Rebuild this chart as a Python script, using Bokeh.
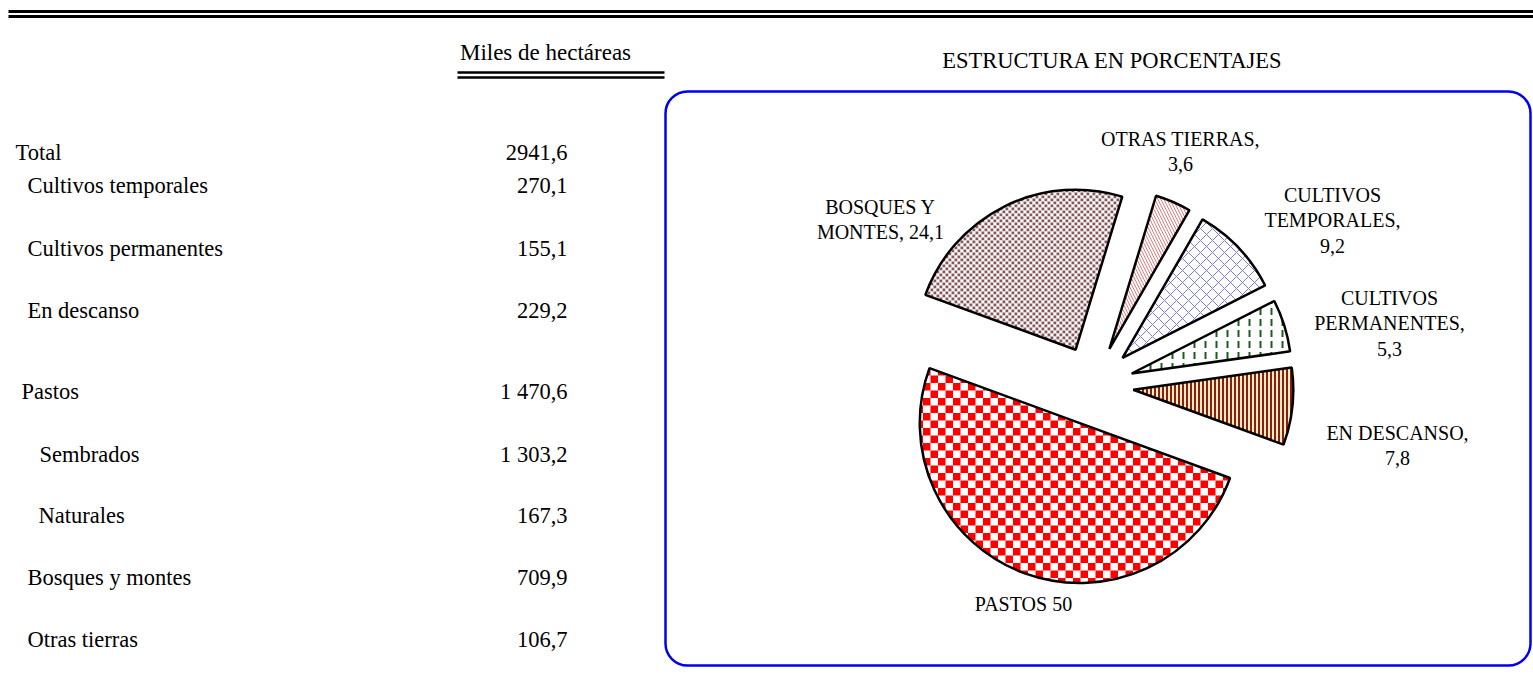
import math
from bokeh.plotting import figure
from bokeh.models import Range1d, BoxAnnotation
from bokeh.core.properties import value
from bokeh.embed import file_html
from bokeh.resources import INLINE

# ---------------- data ----------------
table_labels = ["Total", "Cultivos temporales", "Cultivos permanentes", "En descanso",
                "Pastos", "Sembrados", "Naturales", "Bosques y montes", "Otras tierras"]
table_values = ["2941,6", "270,1", "155,1", "229,2", "1 470,6", "1 303,2", "167,3", "709,9", "106,7"]

slice_names = ["Cultivos temporales", "Cultivos permanentes", "En descanso",
               "Pastos", "Bosques y montes", "Otras tierras"]
slice_hectares = [270.1, 155.1, 229.2, 1470.6, 709.9, 106.7]
slice_pct_text = ["9,2", "5,3", "7,8", "50", "24,1", "3,6"]
slice_label_lines = [["CULTIVOS", "TEMPORALES,", "9,2"],
                     ["CULTIVOS", "PERMANENTES,", "5,3"],
                     ["EN DESCANSO,", "7,8"],
                     ["PASTOS 50"],
                     ["BOSQUES Y", "MONTES, 24,1"],
                     ["OTRAS TIERRAS,", "3,6"]]

header_units = "Miles de hectáreas"
header_chart = "ESTRUCTURA EN PORCENTAJES"

# ---------------- layout ----------------
W, H = 1533, 687
FONT = "Liberation Serif"
row_x = [15, 27, 27, 27, 21, 39, 38, 27, 27]
row_y = [152, 185, 248, 310, 391, 454, 515, 577, 639]
value_right = 567

pie_cx, pie_cy, pie_r, explode = 1093, 385, 160, 40
first_angle_deg = 30  # clockwise from 12 o'clock
label_anchor = [(1332, 194), (1389, 297), (1397, 432), (1023, 603), (880, 206), (1180, 138)]
label_step = 25.5

p = figure(width=W, height=H, output_backend="svg", toolbar_location=None,
           x_range=Range1d(0, W), y_range=Range1d(H, 0),
           x_axis_type=None, y_axis_type=None, min_border=0)
p.grid.visible = False
p.outline_line_color = None
p.background_fill_color = "white"
p.border_fill_color = "white"

# top double rule
p.segment(x0=[8, 8], y0=[11, 16], x1=[W, W], y1=[11, 16], line_color="black", line_width=3)
# units header with double underline
p.text(x=[545], y=[52], text=[header_units], text_font=value(FONT), text_font_size="23px",
       text_align="center", text_baseline="middle", text_color="black")
p.segment(x0=[457, 457], y0=[72, 77], x1=[664, 664], y1=[72, 77], line_color="black", line_width=2.5)
# chart header
p.text(x=[1112], y=[60], text=[header_chart], text_font=value(FONT), text_font_size="22.5px",
       text_align="center", text_baseline="middle", text_color="black")

# table
p.text(x=row_x, y=row_y, text=table_labels, text_font=value(FONT), text_font_size="22.5px",
       text_align="left", text_baseline="middle", text_color="black")
p.text(x=[value_right] * len(table_values), y=row_y, text=table_values, text_font=value(FONT),
       text_font_size="22.5px", text_align="right", text_baseline="middle", text_color="black")

# rounded box
box = BoxAnnotation(left=665, right=1530, top=91, bottom=665, fill_alpha=0, line_alpha=1,
                    line_color="#0000f0", line_width=2.5, border_radius=22)
p.add_layout(box)


# ---------- helpers for square-cell fill patterns clipped to a wedge ----------
def wedge_polygon(cx, cy, r, a0, a1, n=90):
    pts = [(cx, cy)]
    for k in range(n + 1):
        a = a0 + (a1 - a0) * k / n
        pts.append((cx + r * math.cos(a), cy - r * math.sin(a)))
    return pts


def clip_convex(subject, clip):
    area = sum(clip[i][0] * clip[(i + 1) % len(clip)][1] - clip[(i + 1) % len(clip)][0] * clip[i][1]
               for i in range(len(clip)))
    sgn = 1 if area > 0 else -1

    def inside(pt, a, b):
        return sgn * ((b[0] - a[0]) * (pt[1] - a[1]) - (b[1] - a[1]) * (pt[0] - a[0])) >= 0

    def inter(p1, p2, a, b):
        x1, y1 = p1; x2, y2 = p2; x3, y3 = a; x4, y4 = b
        den = (x1 - x2) * (y3 - y4) - (y1 - y2) * (x3 - x4)
        if abs(den) < 1e-12:
            return p2
        t = ((x1 - x3) * (y3 - y4) - (y1 - y3) * (x3 - x4)) / den
        return (x1 + t * (x2 - x1), y1 + t * (y2 - y1))

    out = subject
    for i in range(len(clip)):
        a, b = clip[i], clip[(i + 1) % len(clip)]
        if not out:
            break
        inp, out = out, []
        for j in range(len(inp)):
            cur, prev = inp[j], inp[j - 1]
            if inside(cur, a, b):
                if not inside(prev, a, b):
                    out.append(inter(prev, cur, a, b))
                out.append(cur)
            elif inside(prev, a, b):
                out.append(inter(prev, cur, a, b))
    return out


def checker_cells(poly, cell, size):
    xs_all = [q[0] for q in poly]; ys_all = [q[1] for q in poly]
    i0, i1 = int(math.floor(min(xs_all) / cell)), int(math.ceil(max(xs_all) / cell))
    j0, j1 = int(math.floor(min(ys_all) / cell)), int(math.ceil(max(ys_all) / cell))
    XS, YS = [], []
    for i in range(i0, i1 + 1):
        for j in range(j0, j1 + 1):
            if (i + j) % 2:
                continue
            x, y = i * cell, j * cell
            sq = [(x, y), (x + size, y), (x + size, y + size), (x, y + size)]
            c = clip_convex(sq, poly)
            if len(c) >= 3:
                XS.append([q[0] for q in c]); YS.append([q[1] for q in c])
    return XS, YS


styles = [
    dict(fill_color="white", hatch_pattern="diagonal_cross", hatch_color="#7a7aee", hatch_scale=12, hatch_weight=1),
    dict(fill_color="white", hatch_pattern="vertical_dash", hatch_color="#1d5a1d", hatch_scale=11, hatch_weight=2),
    dict(fill_color="#f6efb8", hatch_pattern="vertical_line", hatch_color="#8b1c1c", hatch_scale=4, hatch_weight=2),
    dict(fill_color="white", cells=(7.5, 7.5, "#ff0000")),
    dict(fill_color="white", cells=(3, 2.8, "#875659")),
    dict(fill_color="white", hatch_pattern="left_diagonal_line", hatch_color="#e57a7a", hatch_scale=6, hatch_weight=1),
]

total = sum(slice_hectares)
ang = math.radians(90 - first_angle_deg)  # math angle where first slice starts
for i, v in enumerate(slice_hectares):
    span = 2 * math.pi * v / total
    end = ang
    start = ang - span
    mid = (start + end) / 2
    cx = pie_cx + explode * math.cos(mid)
    cy = pie_cy - explode * math.sin(mid)
    st = dict(styles[i])
    cells = st.pop("cells", None)
    p.wedge(x=[cx], y=[cy], radius=pie_r, radius_units="screen", start_angle=start, end_angle=end,
            direction="anticlock", line_color=None, **st)
    if cells:
        cell, size, col = cells
        XS, YS = checker_cells(wedge_polygon(cx, cy, pie_r, start, end), cell, size)
        p.patches(xs=XS, ys=YS, fill_color=col, line_color=None)
    p.wedge(x=[cx], y=[cy], radius=pie_r, radius_units="screen", start_angle=start, end_angle=end,
            direction="anticlock", fill_alpha=0, line_color="black", line_width=2.5)
    ang = start

# slice labels
lx, ly, lt = [], [], []
for (ax, ay), lines in zip(label_anchor, slice_label_lines):
    for k, t in enumerate(lines):
        lx.append(ax)
        ly.append(ay + k * label_step)
        lt.append(t)
p.text(x=lx, y=ly, text=lt, text_font=value(FONT), text_font_size="20px",
       text_align="center", text_baseline="middle", text_color="black")

open("out.html", "w").write(file_html(p, INLINE))
